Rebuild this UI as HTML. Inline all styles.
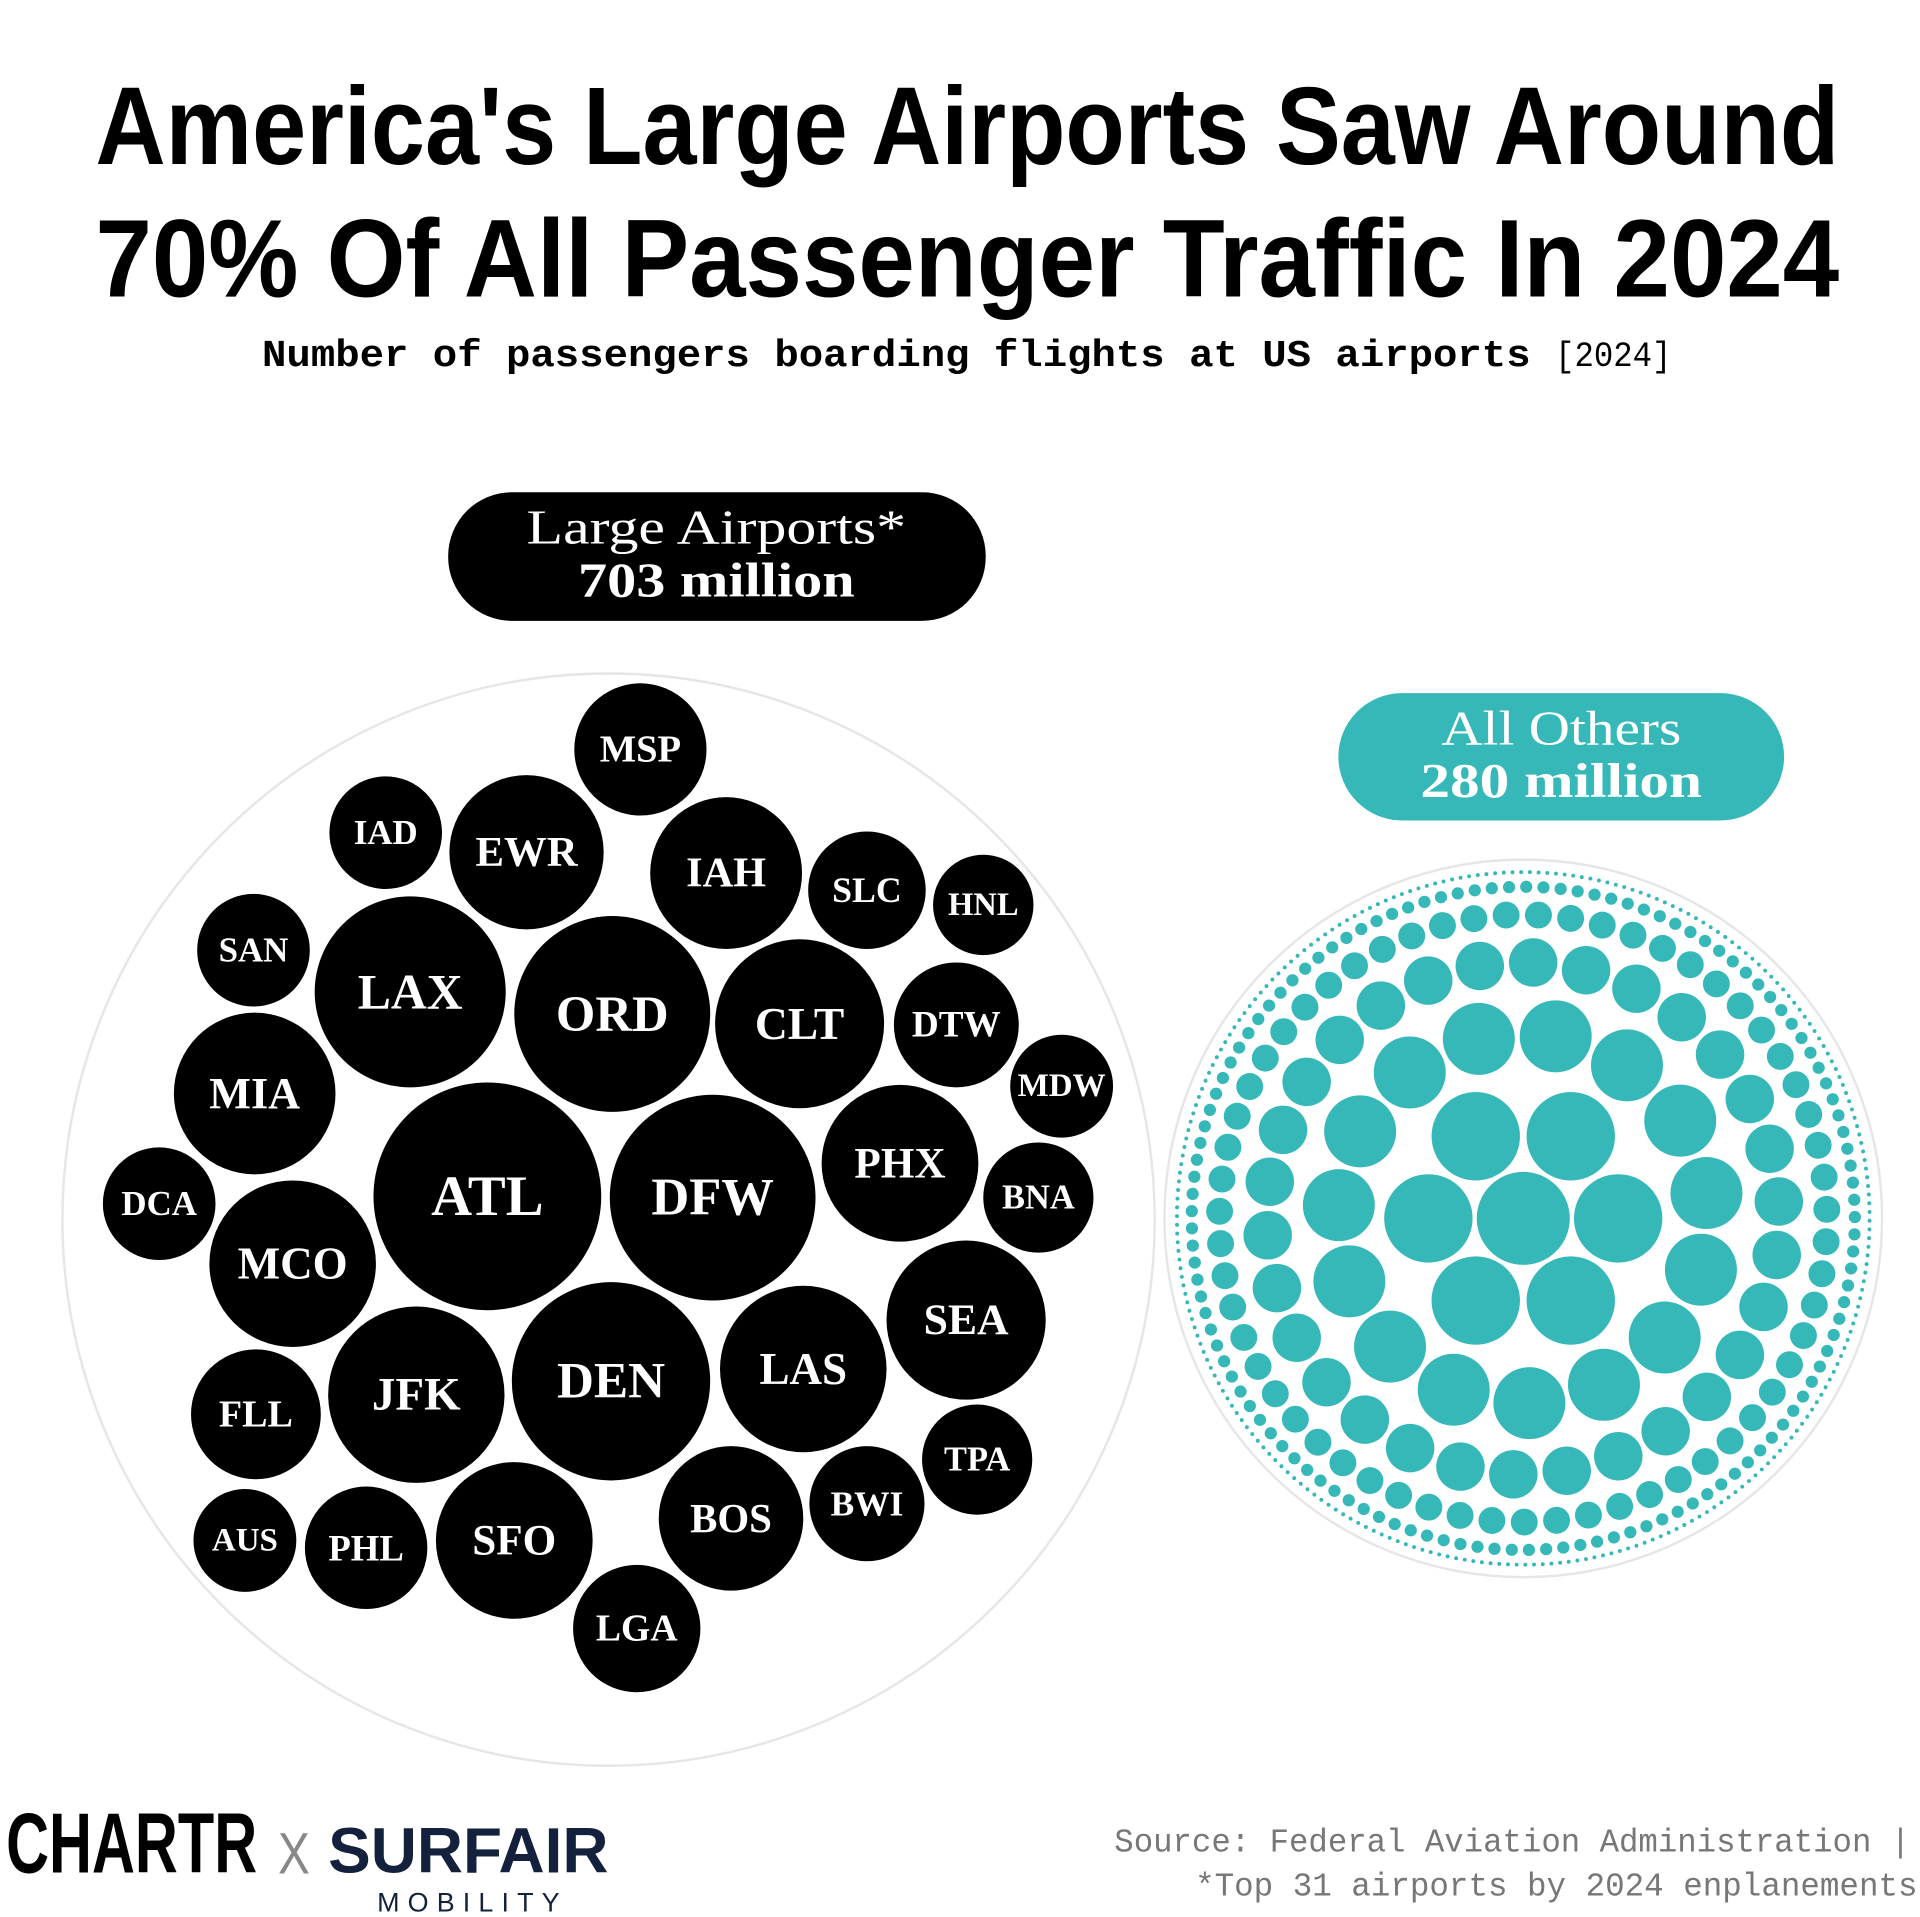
<!DOCTYPE html>
<html><head><meta charset="utf-8"><style>
html,body{margin:0;padding:0;background:#fff;width:1920px;height:1917px;overflow:hidden}
svg{display:block}
.lab{font-family:"Liberation Serif",serif;fill:#fff;text-anchor:middle;dominant-baseline:central}
</style></head><body>
<svg id="s" width="1920" height="1917" viewBox="0 0 1568 1565.5" xmlns="http://www.w3.org/2000/svg">
<rect width="1568" height="1565.5" fill="#fff"/>
<g font-family="'Liberation Sans',sans-serif" font-weight="bold" fill="#000">
<text x="78" y="134" font-size="90" textLength="1424" lengthAdjust="spacingAndGlyphs">America's Large Airports Saw Around</text>
<text x="78" y="242" font-size="90" textLength="1424" lengthAdjust="spacingAndGlyphs">70% Of All Passenger Traffic In 2024</text>
</g>
<text x="214" y="299" font-family="'Liberation Mono',monospace" font-weight="bold" font-size="31" textLength="1036" lengthAdjust="spacingAndGlyphs">Number of passengers boarding flights at US airports</text>
<text x="1270" y="299" font-family="'Liberation Mono',monospace" font-size="29" textLength="95" lengthAdjust="spacingAndGlyphs">[2024]</text>

<rect x="366" y="402" width="439" height="105" rx="52" fill="#000"/>
<text x="585" y="444" text-anchor="middle" font-family="'Liberation Serif',serif" font-size="40" fill="#fff" textLength="310" lengthAdjust="spacingAndGlyphs">Large Airports*</text>
<text x="585" y="487" text-anchor="middle" font-family="'Liberation Serif',serif" font-weight="bold" font-size="40" fill="#fff" textLength="226" lengthAdjust="spacingAndGlyphs">703 million</text>
<rect x="1093" y="566" width="364" height="104" rx="52" fill="#36b8b8"/>
<text x="1275" y="608" text-anchor="middle" font-family="'Liberation Serif',serif" font-size="40" fill="#fff" textLength="196" lengthAdjust="spacingAndGlyphs">All Others</text>
<text x="1275" y="651" text-anchor="middle" font-family="'Liberation Serif',serif" font-weight="bold" font-size="40" fill="#fff" textLength="230" lengthAdjust="spacingAndGlyphs">280 million</text>

<circle cx="497" cy="996" r="446" fill="none" stroke="#e6e6e6" stroke-width="2"/>
<circle cx="1244" cy="995" r="293" fill="none" stroke="#e6e6e6" stroke-width="2"/>
<g id="black"></g>
<g id="teal" fill="#36b8b8"></g>

<text x="5" y="1529" font-family="'Liberation Sans',sans-serif" font-weight="bold" font-size="70" textLength="205" lengthAdjust="spacingAndGlyphs" fill="#000">CHARTR</text>
<text x="227" y="1530" font-family="'Liberation Sans',sans-serif" font-size="48" fill="#888" textLength="26" lengthAdjust="spacingAndGlyphs">X</text>
<text x="268" y="1529" font-family="'Liberation Sans',sans-serif" font-weight="bold" font-size="52" fill="#14213d" textLength="229" lengthAdjust="spacingAndGlyphs">SURFAIR</text>
<text x="308" y="1561" font-family="'Liberation Sans',sans-serif" font-size="22" fill="#14213d" textLength="149" lengthAdjust="spacing">MOBILITY</text>
<text x="910" y="1512" font-family="'Liberation Mono',monospace" font-size="27" fill="#777" textLength="650" lengthAdjust="spacingAndGlyphs">Source: Federal Aviation Administration |</text>
<text x="976" y="1548" font-family="'Liberation Mono',monospace" font-size="27" fill="#777" textLength="590" lengthAdjust="spacingAndGlyphs">*Top 31 airports by 2024 enplanements</text>
</svg>
<script>
var NS="http://www.w3.org/2000/svg";
var A=[["MSP",523,612,54],["IAD",315,680,46],["EWR",430,696,63],["IAH",593,713,62],["SLC",708,727,48],["HNL",803,739,41],["SAN",207,776,46],["LAX",335,810,78],["ORD",500,828,80],["CLT",653,836,69],["DTW",781,837,51],["MDW",867,887,42],["MIA",208,893,66],["DCA",130,983,46],["ATL",398,977,93],["DFW",582,978,84],["PHX",735,950,64],["BNA",848,978,45],["MCO",239,1032,68],["SEA",789,1078,65],["LAS",656,1118,68],["DEN",499,1128,81],["JFK",340,1139,72],["FLL",209,1155,53],["TPA",798,1192,45],["BWI",708,1228,47],["BOS",597,1240,59],["AUS",200,1258,42],["PHL",299,1264,50],["SFO",420,1258,64],["LGA",520,1330,52]];
var g=document.getElementById("black");
A.forEach(function(a){
 var c=document.createElementNS(NS,"circle");c.setAttribute("cx",a[1]);c.setAttribute("cy",a[2]);c.setAttribute("r",a[3]);c.setAttribute("fill","#000");g.appendChild(c);
 var t=document.createElementNS(NS,"text");t.setAttribute("x",a[1]);t.setAttribute("y",a[2]);t.setAttribute("class","lab");
 t.setAttribute("font-size",(11+0.38*a[3]).toFixed(1));t.setAttribute("font-weight","bold");t.textContent=a[0];g.appendChild(t);
});
var tg=document.getElementById("teal"),cx=1244,cy=995,R=288;
function rf(d){return Math.max(1.3,38*(1-Math.pow(d/R,2.3)));}
function add(x,y,r){var c=document.createElementNS(NS,"circle");c.setAttribute("cx",x.toFixed(1));c.setAttribute("cy",y.toFixed(1));c.setAttribute("r",r.toFixed(1));tg.appendChild(c);}
add(cx,cy,38);
var d=38+3+rf(70),k=0;
while(d<R-2){
 var r=rf(d);
 var n=Math.floor(2*Math.PI*d/(2*r+4));
 var off=k*0.7;
 for(var i=0;i<n;i++){var a=off+i*2*Math.PI/n;add(cx+d*Math.cos(a),cy+d*Math.sin(a),r);}
 var r2=rf(d+r+2);
 d+=r+r2+4;k++;
}
</script>
</body></html>
